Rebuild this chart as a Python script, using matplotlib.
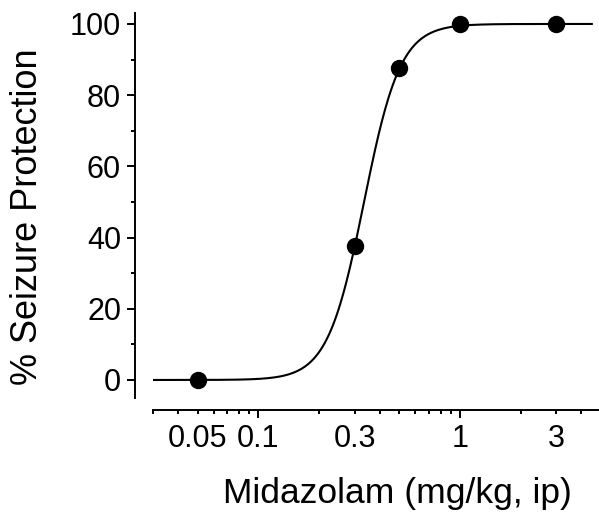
import numpy as np
import matplotlib
matplotlib.use("Agg")
import matplotlib.pyplot as plt
from matplotlib.ticker import FixedLocator, LogLocator, FuncFormatter, MultipleLocator

plt.rcParams['font.family'] = ['Liberation Sans', 'DejaVu Sans']

# data
dose = [0.05, 0.3, 0.5, 1.0, 3.0]
protection = [0.0, 37.5, 87.5, 100.0, 100.0]

# fitted dose-response curve (Hill) parameters
ed50 = 0.334
hill_slope = 4.8
top = 100.0
curve_range = (0.03, 4.5)

x_labels = [0.05, 0.1, 0.3, 1, 3]

fig = plt.figure(figsize=(5.99, 5.17), dpi=100)
ax = fig.add_axes([0.2554, 0.2306, 0.748, 0.7437])

xc = np.logspace(np.log10(curve_range[0]), np.log10(curve_range[1]), 400)
yc = top / (1 + (ed50 / xc) ** hill_slope)
ax.plot(xc, yc, color='black', lw=1.5, zorder=2)
ax.plot(dose, protection, 'o', color='black', ms=11.5, zorder=3)

ax.set_xscale('log')
ax.set_xlim(0.03, 5)
ax.set_ylim(-5, 103)

for s in ['top', 'right']:
    ax.spines[s].set_visible(False)
ax.spines['left'].set_position(('outward', 13))
ax.spines['bottom'].set_position(('outward', 8.6))
ax.spines['left'].set_linewidth(1.4)
ax.spines['bottom'].set_linewidth(1.4)

ax.yaxis.set_major_locator(MultipleLocator(20))
ax.yaxis.set_minor_locator(MultipleLocator(10))
ax.yaxis.set_major_formatter(FuncFormatter(lambda v, p: f"{v:g}"))

ax.xaxis.set_major_locator(FixedLocator([0.1, 1]))
ax.xaxis.set_minor_locator(LogLocator(base=10, subs=np.arange(2, 10)))
def xfmt(v, p):
    for lab in x_labels:
        if abs(v - lab) < 1e-6 * max(lab, 1):
            return f"{lab:g}"
    return ""
ax.xaxis.set_major_formatter(FuncFormatter(xfmt))
ax.xaxis.set_minor_formatter(FuncFormatter(xfmt))

ax.tick_params(which='major', direction='out', length=6, width=1.4, labelsize=22, pad=4)
ax.tick_params(which='minor', direction='out', length=3, width=1.4, labelsize=22, pad=7)

ax.set_ylabel('% Seizure Protection', fontsize=26)
ax.set_xlabel('Midazolam (mg/kg, ip)', fontsize=25.5)
ax.yaxis.set_label_coords(-0.24, 0.47)
ax.xaxis.set_label_coords(0.545, -0.205)

fig.savefig('out.png', dpi=100)
